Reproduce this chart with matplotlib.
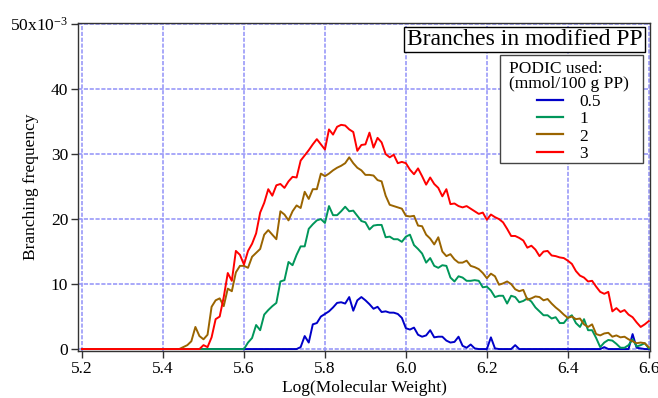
import numpy as np
import matplotlib
matplotlib.use("Agg")
import matplotlib.pyplot as plt
from matplotlib.lines import Line2D
from matplotlib.patches import Rectangle

plt.rcParams["font.family"] = ["Liberation Serif", "DejaVu Serif"]
plt.rcParams["mathtext.fontset"] = "custom"
plt.rcParams["mathtext.rm"] = "Liberation Serif"
plt.rcParams["mathtext.it"] = "Liberation Serif:italic"
plt.rcParams["mathtext.bf"] = "Liberation Serif:bold"

# Log(Molecular Weight) sampling grid
log_mw = np.round(np.linspace(5.2, 6.6, 141), 3)

# Branching frequency (x10^-3) for each PODIC level (mmol/100 g PP)
freq_05 = [0.0] * 54 + [
    0.3, 2.0, 1.0, 3.8, 4.0, 5.0,
    5.4, 5.8, 6.4, 7.1, 7.2, 7.0, 8.0, 5.9, 7.5, 8.0,
    7.5, 6.9, 6.2, 6.5, 5.7, 5.8, 5.6, 5.6, 5.4, 4.8,
    3.2, 3.0, 3.3, 2.2, 1.9, 2.1, 2.9, 1.8, 1.9, 1.9,
    1.3, 1.0, 1.1, 1.9, 0.5, 0.2, 0.7, 0.1, 0.0, 0.0,
    0.0, 1.8, 0.1, 0.0, 0.0, 0.0, 0.0, 0.6, 0.0, 0.0,
    0.0, 0.0, 0.0, 0.0, 0.0, 0.0, 0.0, 0.0, 0.0, 0.0,
    0.0, 0.0, 0.0, 0.0, 0.0, 0.0, 0.0, 0.0, 0.0, 0.3,
    0.0, 0.0, 0.0, 0.0, 0.0, 0.0, 2.3, 0.2, 0.1, 0.0, 0.0,
]

freq_1 = [0.0] * 41 + [
    1.0, 1.7, 3.7, 2.9, 5.3, 6.0, 6.6, 7.1, 10.4,
    10.6, 13.4, 12.9, 14.5, 15.8, 15.8, 18.5, 19.2, 19.8, 20.0,
    19.4, 22.0, 20.6, 20.6, 21.2, 21.9, 21.2, 21.3, 20.5, 19.7,
    19.5, 18.4, 19.0, 19.1, 19.1, 17.2, 17.3, 16.9, 16.9, 16.5,
    17.3, 17.6, 16.0, 15.4, 14.7, 13.3, 14.0, 12.8, 12.5, 12.9,
    12.8, 11.0, 10.4, 11.2, 11.0, 10.5, 10.5, 10.6, 10.5, 9.5,
    9.6, 9.0, 8.0, 8.2, 8.2, 7.0, 8.2, 8.0, 7.2, 7.4,
    7.8, 7.3, 6.4, 5.8, 5.2, 5.2, 4.7, 4.9, 4.0, 4.0,
    4.8, 5.2, 4.0, 3.4, 4.6, 2.9, 2.9, 1.7, 0.3, 1.0,
    1.4, 1.3, 0.8, 0.2, 0.2, 0.6, 1.5, 0.4, 0.6, 0.9, 0.1,
]

freq_2 = [0.0] * 24 + [
    0.0, 0.3, 0.6, 1.2, 3.4, 2.0,
    1.5, 2.2, 6.5, 7.5, 7.8, 6.6, 9.3, 8.9, 11.8, 12.8,
    12.8, 12.5, 14.2, 14.8, 15.4, 17.6, 18.3, 17.6, 16.9, 21.2,
    20.7, 19.8, 21.2, 22.1, 21.7, 24.2, 23.1, 24.6, 24.6, 27.0,
    26.6, 27.0, 27.5, 27.9, 28.2, 28.6, 29.5, 28.6, 27.9, 27.5,
    26.8, 26.8, 26.7, 26.0, 25.8, 23.6, 22.2, 22.0, 21.8, 21.6,
    20.5, 20.4, 20.5, 19.0, 18.9, 17.6, 17.0, 16.1, 17.2, 15.0,
    14.3, 14.6, 13.8, 13.3, 13.3, 13.6, 12.8, 12.6, 12.3, 11.7,
    10.9, 11.6, 11.2, 9.9, 10.1, 10.4, 10.0, 9.2, 8.9, 9.1,
    7.6, 7.8, 8.1, 8.0, 7.5, 7.7, 7.0, 6.4, 5.9, 5.3,
    4.8, 5.0, 4.6, 4.7, 3.8, 3.4, 3.8, 2.3, 2.1, 2.4,
    2.5, 1.9, 2.1, 1.8, 1.9, 1.5, 1.2, 0.9, 1.0, 0.9, 0.3,
]

freq_3 = [0.0] * 30 + [
    0.6, 0.3, 1.8, 4.6, 5.0, 8.0, 11.7, 10.5, 15.1, 14.5,
    13.0, 15.1, 16.2, 17.8, 21.0, 22.5, 24.6, 23.6, 25.2, 25.4,
    24.8, 25.8, 26.5, 26.4, 29.0, 29.8, 30.6, 31.5, 32.3, 31.5,
    30.7, 33.8, 33.0, 34.2, 34.5, 34.4, 33.8, 33.4, 30.5, 31.4,
    31.5, 33.3, 31.0, 32.5, 31.8, 30.0, 29.5, 29.9, 28.6, 28.8,
    28.6, 27.6, 26.9, 27.8, 26.6, 25.3, 26.4, 25.4, 24.8, 23.5,
    24.6, 22.3, 22.4, 22.0, 21.8, 22.0, 21.6, 21.2, 20.8, 21.0,
    19.9, 20.7, 20.3, 20.0, 19.5, 18.5, 17.4, 17.4, 17.1, 16.7,
    15.6, 15.9, 15.3, 14.3, 15.0, 15.1, 14.4, 14.3, 14.1, 14.0,
    13.6, 13.1, 12.0, 11.3, 11.0, 10.4, 10.5, 9.6, 8.8, 8.5,
    8.8, 5.8, 6.3, 5.7, 6.0, 5.3, 4.9, 4.1, 3.4, 3.8, 4.3,
]

series_labels = ["0.5", "1", "2", "3"]
series_colors = ["#0000c8", "#00965a", "#9a6400", "#ff0000"]
series_values = [freq_05, freq_1, freq_2, freq_3]

x_ticks = [5.2, 5.4, 5.6, 5.8, 6.0, 6.2, 6.4, 6.6]
x_tick_labels = ["5.2", "5.4", "5.6", "5.8", "6.0", "6.2", "6.4", "6.6"]
y_ticks = [0, 10, 20, 30, 40, 50]
y_tick_labels = ["0", "10", "20", "30", "40", r"50x10$^{\mathregular{-3}}$"]

W, H = 658, 398
fig = plt.figure(figsize=(W / 100, H / 100), dpi=100)
ax = fig.add_axes([78 / W, 1 - 351 / H, (650 - 78) / W, (351 - 22.5) / H])

for vals, col in zip(series_values, series_colors):
    ax.plot(log_mw, vals, color=col, lw=1.4, zorder=3)

ax.set_xlim(5.190, 6.603)
ax.set_ylim(-0.3, 50.25)

ax.set_xticks(x_ticks)
ax.set_xticklabels(x_tick_labels)
ax.set_yticks(y_ticks)
ax.set_yticklabels(y_tick_labels)
ax.tick_params(direction="out", length=5, width=1, labelsize=12.5, pad=2,
               color="#333333")

ax.grid(True, color="#9a9af8", linestyle=(0, (2.5, 1)), linewidth=1.2, zorder=1)
ax.set_axisbelow(True)

for side in ["left", "bottom", "top", "right"]:
    ax.spines[side].set_linewidth(1.0)
    ax.spines[side].set_color("#333333")

ax.set_xlabel("Log(Molecular Weight)", fontsize=12.5, labelpad=2)
ax.set_ylabel("Branching frequency", fontsize=12.5)
ax.yaxis.set_label_coords((39 - 78) / (650 - 78), 0.5)

# Heading box
fig.text(524.5 / W, 1 - 39.5 / H, "Branches in modified PP", fontsize=17,
         ha="center", va="center",
         bbox=dict(boxstyle="square,pad=0.1", facecolor="white",
                   edgecolor="black", linewidth=1.0))

# Legend panel frame
fig.patches.append(Rectangle((500 / W, 1 - 163 / H), 143 / W, 108 / H,
                             transform=fig.transFigure, facecolor="white",
                             edgecolor="#444444", linewidth=1.0, zorder=4))

handles = [Line2D([], [], color=c, lw=1.6) for c in series_colors]
leg = fig.legend(handles, series_labels, title="PODIC used:\n(mmol/100 g PP)",
                 loc="upper center", bbox_to_anchor=(569 / W, 1 - 61 / H),
                 bbox_transform=fig.transFigure, fontsize=12.5,
                 title_fontsize=12.5, frameon=False, handlelength=1.5,
                 handletextpad=0.9, labelspacing=0.07, borderpad=0,
                 borderaxespad=0)
leg.set_zorder(5)
leg.get_title().set_linespacing(0.95)

fig.savefig("out.png", dpi=100)
